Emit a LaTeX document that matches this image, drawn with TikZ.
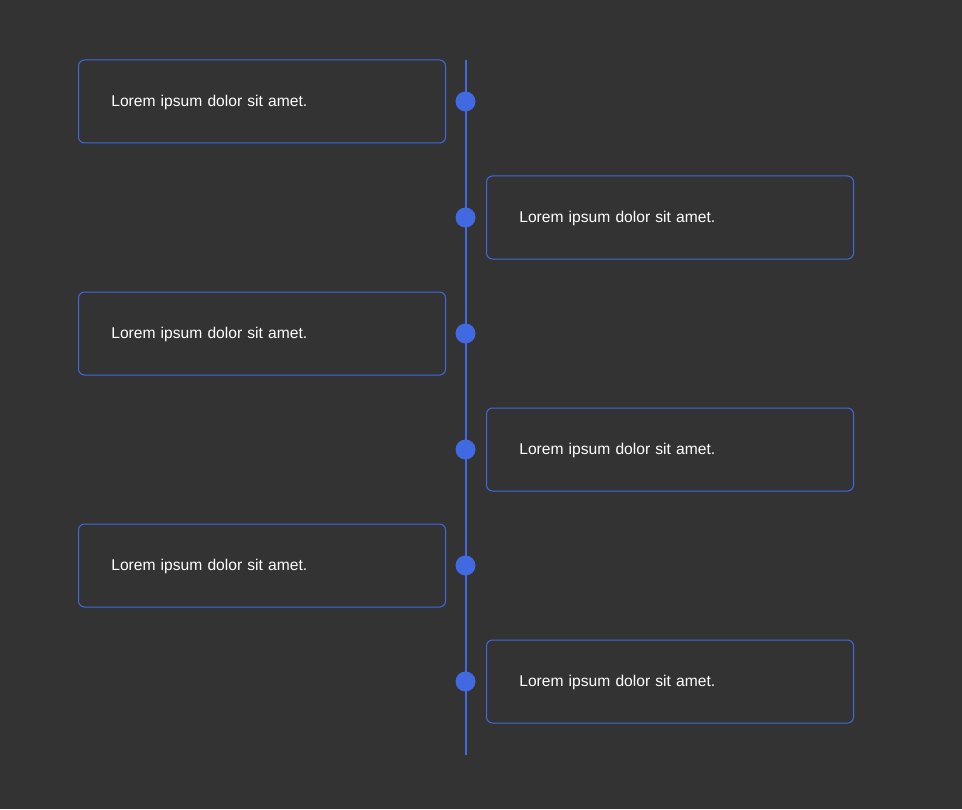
\documentclass[tikz,border=0pt]{standalone}
\usepackage{fontspec}
\setmainfont{Liberation Sans}
\usepackage{xcolor}
\usetikzlibrary{positioning}
\definecolor{cBg}{HTML}{333333}
\definecolor{cLine}{HTML}{4169E1}
\def\tlx{465.5}
\tikzset{
  tlbox/.style={draw=cLine,fill=cBg,rounded corners=4.5pt,line width=0.75pt,
      minimum width=275.25pt,minimum height=62.25pt,text width=226pt,
      text height=10pt,text depth=2pt,
      inner xsep=24.5pt,align=left,text=white,font=\fontsize{11.7}{14}\selectfont},
  tldot/.style={circle,fill=cLine,draw=none,minimum size=15pt,inner sep=0pt},
  tlline/.style={draw=cLine,line width=1.5pt},
}
\newcommand{\tlitem}[4]{%
  \node[tlbox] (#1) at (#2,#3) {#4};
  \node[tldot] (#1d) at (\tlx,#3) {};}

\begin{document}
\begin{tikzpicture}[x=0.75pt,y=-0.75pt]
  \fill[cBg] (0,0) rectangle (962,809);

  \coordinate (tltop) at (\tlx,60);
  \coordinate (tlbot) at (\tlx,755);
  \draw[tlline] (tltop) -- (tlbot);

  \tlitem{ea}{262}{101.5}{Lorem ipsum dolor sit amet.}
  \tlitem{eb}{670}{217.5}{Lorem ipsum dolor sit amet.}
  \tlitem{ec}{262}{333.5}{Lorem ipsum dolor sit amet.}
  \tlitem{ed}{670}{449.5}{Lorem ipsum dolor sit amet.}
  \tlitem{ee}{262}{565.5}{Lorem ipsum dolor sit amet.}
  \tlitem{ef}{670}{681.5}{Lorem ipsum dolor sit amet.}
\end{tikzpicture}
\end{document}
